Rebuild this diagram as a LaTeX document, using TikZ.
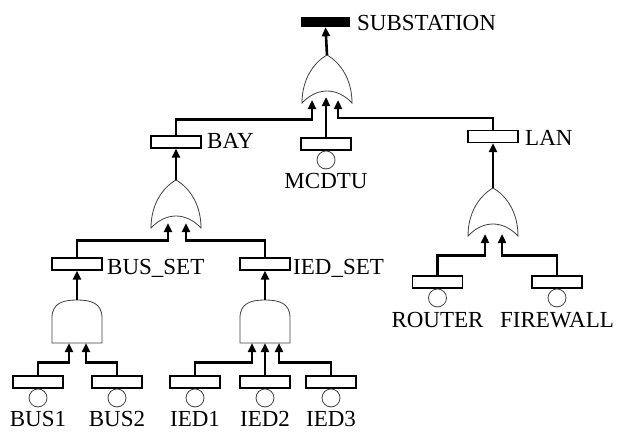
\documentclass[tikz,border=0pt]{standalone}
\usepackage{fontspec}
\setmainfont{Liberation Serif}
\usetikzlibrary{arrows.meta,positioning}

\begin{document}
\begin{tikzpicture}[x=1pt,y=-1pt,
  evt/.style={rectangle,draw,line width=1.1pt,minimum width=50pt,minimum height=12pt,inner sep=0pt},
  topevt/.style={rectangle,fill=black,minimum width=49pt,minimum height=10pt,inner sep=0pt},
  leaf/.style={circle,draw=black!75,line width=0.8pt,minimum size=18pt,inner sep=0pt},
  lbl/.style={inner sep=0pt,font=\fontsize{23}{25}\selectfont},
  gate/.style={draw=black!75,line width=0.8pt},
  conn/.style={line width=2.6pt,-{Triangle[length=9pt,width=8pt]}},
  orgate/.pic={\coordinate (-out) at (0,0);
    \draw[gate] (-25,48) .. controls (-25,25) and (-14,8) .. (0,0) .. controls (14,8) and (25,25) .. (25,48) .. controls (10,32) and (-10,32) .. cycle;},
  andgate/.pic={\coordinate (-out) at (0,0);
    \draw[gate] (-25,43) -- (-25,18) .. controls (-25,3) and (-14,0) .. (0,0) .. controls (14,0) and (25,3) .. (25,18) -- (25,43) -- cycle;}]
\path[use as bounding box] (0,0) rectangle (618,431);
\node[topevt] (sub) at (325.5,22) {};
\node[lbl,anchor=base west] (subl) at (357,30) {SUBSTATION};
\pic (gtop) at (327,55) {orgate};
\coordinate (gtopa) at (312,100);
\coordinate (gtopb) at (326,97);
\coordinate (gtopc) at (338,100);
\node[evt] (mcdtu) at (326,144) {};
\node[leaf,below=0pt of mcdtu] (mcdtuc) {};
\node[lbl,below=4pt of mcdtuc] (mcdtul) {MCDTU};
\node[evt] (bay) at (176,142) {};
\node[lbl,anchor=base west] (bayl) at (207,148) {BAY};
\node[evt] (lan) at (493,136.5) {};
\node[lbl,anchor=base west] (lanl) at (525,145) {LAN};
\pic (gbay) at (176,180) {orgate};
\coordinate (gbaya) at (168,223);
\coordinate (gbayb) at (186,223);
\pic (glan) at (493,188) {orgate};
\coordinate (glana) at (485,234);
\coordinate (glanb) at (502,234);
\node[evt] (busset) at (77,264) {};
\node[lbl,anchor=base west] (bussetl) at (107,274) {BUS\_SET};
\node[evt] (iedset) at (265,264) {};
\node[lbl,anchor=base west] (iedsetl) at (293,274) {IED\_SET};
\node[evt] (router) at (437.5,282) {};
\node[leaf,below=0pt of router] (routerc) {};
\node[lbl,below=5pt of routerc] (routerl) {ROUTER};
\node[evt] (firewall) at (557,282) {};
\node[leaf,below=0pt of firewall] (firewallc) {};
\node[lbl,below=5pt of firewallc] (firewalll) {FIREWALL};
\pic (gbus) at (77,300) {andgate};
\coordinate (gbusa) at (69,343);
\coordinate (gbusb) at (86,343);
\pic (gied) at (265,300) {andgate};
\coordinate (gieda) at (252,343);
\coordinate (giedb) at (265,343);
\coordinate (giedc) at (279,343);
\node[evt] (bus1) at (38,382) {};
\node[leaf,below=0pt of bus1] (bus1c) {};
\node[lbl,below=4pt of bus1c] (bus1l) {BUS1};
\node[evt] (bus2) at (117,382) {};
\node[leaf,below=0pt of bus2] (bus2c) {};
\node[lbl,below=4pt of bus2c] (bus2l) {BUS2};
\node[evt] (ied1) at (195,382) {};
\node[leaf,below=0pt of ied1] (ied1c) {};
\node[lbl,below=4pt of ied1c] (ied1l) {IED1};
\node[evt] (ied2) at (265,382) {};
\node[leaf,below=0pt of ied2] (ied2c) {};
\node[lbl,below=4pt of ied2c] (ied2l) {IED2};
\node[evt] (ied3) at (331,382) {};
\node[leaf,below=0pt of ied3] (ied3c) {};
\node[lbl,below=4pt of ied3c] (ied3l) {IED3};
\draw[conn] (gtop-out) -- (sub.south);
\draw[conn] (bay.north) -- ++(0,-16) -| (gtopa);
\draw[conn] (mcdtu.north) -- (gtopb);
\draw[conn] (lan.north) -- ++(0,-12) -| (gtopc);
\draw[conn] (gbay-out) -- (bay.south);
\draw[conn] (busset.north) -- ++(0,-17) -| (gbaya);
\draw[conn] (iedset.north) -- ++(0,-17) -| (gbayb);
\draw[conn] (glan-out) -- (lan.south);
\draw[conn] (router.north) -- ++(0,-20) -| (glana);
\draw[conn] (firewall.north) -- ++(0,-20) -| (glanb);
\draw[conn] (gbus-out) -- (busset.south);
\draw[conn] (bus1.north) -- ++(0,-13) -| (gbusa);
\draw[conn] (bus2.north) -- ++(0,-13) -| (gbusb);
\draw[conn] (gied-out) -- (iedset.south);
\draw[conn] (ied1.north) -- ++(0,-13) -| (gieda);
\draw[conn] (ied2.north) -- (giedb);
\draw[conn] (ied3.north) -- ++(0,-13) -| (giedc);
\end{tikzpicture}
\end{document}
